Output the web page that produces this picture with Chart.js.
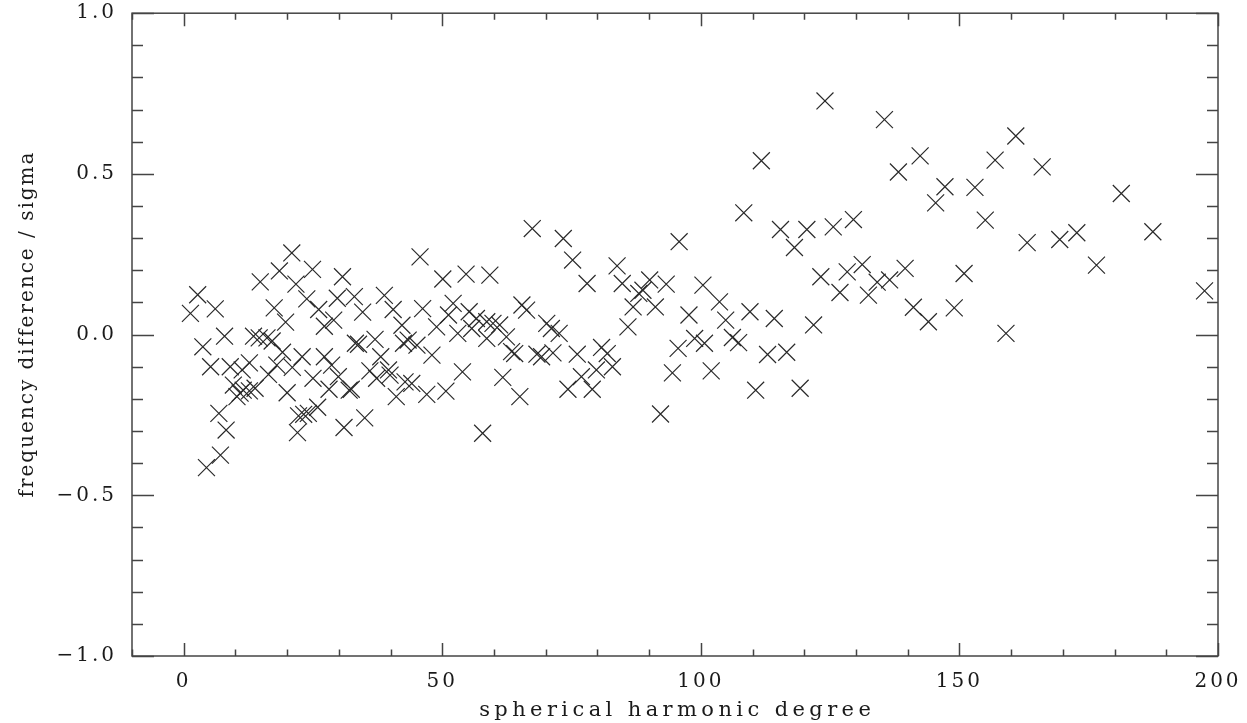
<!DOCTYPE html>
<html>
<head>
<meta charset="utf-8">
<script src="https://cdn.jsdelivr.net/npm/chart.js@4.4.1/dist/chart.umd.min.js"></script>
<style>
  html, body { margin: 0; padding: 0; background: #fff; }
  canvas { display: block; }
</style>
</head>
<body>
<canvas id="freqChart" width="1247" height="723"></canvas>
<script>
// ---- data ----
const degree = [
  1.3, 2.7, 3.7, 4.4, 5.2, 6.1, 6.8, 7.1, 7.9, 8.2,
  9.0, 9.6, 10.3, 10.9, 11.3, 11.5, 12.7, 12.7, 13.5, 13.8,
  14.6, 14.8, 16.1, 16.4, 17.1, 17.5, 18.0, 18.5, 19.1, 19.7,
  20.0, 20.9, 21.0, 21.7, 22.0, 22.2, 22.9, 23.2, 23.8, 24.1,
  24.9, 25.0, 25.9, 26.1, 27.2, 27.2, 28.1, 28.6, 29.0, 29.7,
  29.9, 30.7, 31.0, 32.0, 32.4, 33.0, 33.2, 33.8, 34.6, 35.0,
  36.0, 37.0, 37.3, 38.1, 38.8, 39.6, 39.9, 40.5, 41.1, 42.2,
  42.5, 42.8, 43.4, 44.1, 45.1, 45.7, 46.2, 47.0, 48.0, 48.9,
  50.1, 50.7, 51.2, 52.1, 53.0, 53.9, 54.6, 55.2, 55.7, 56.6,
  57.8, 58.6, 58.6, 59.2, 59.8, 61.1, 61.7, 62.4, 63.4, 64.0,
  65.0, 65.4, 66.3, 67.4, 68.3, 69.2, 70.2, 71.1, 71.4, 72.6,
  73.4, 74.3, 75.2, 76.1, 76.9, 78.0, 79.0, 79.8, 80.8, 81.9,
  82.9, 83.8, 84.8, 85.9, 86.9, 88.0, 88.8, 90.1, 91.2, 92.2,
  93.3, 94.5, 95.6, 95.8, 97.7, 98.8, 100.4, 100.7, 102.0, 103.6,
  104.8, 106.1, 107.3, 108.3, 109.5, 110.6, 111.7, 112.9, 114.2, 115.4,
  116.6, 118.1, 119.2, 120.5, 121.8, 123.2, 124.0, 125.6, 126.9, 128.3,
  129.5, 131.2, 132.4, 134.1, 135.5, 136.5, 138.2, 139.5, 141.1, 142.4,
  144.0, 145.4, 147.2, 149.0, 150.9, 153.0, 155.0, 156.9, 159.0, 160.9,
  163.1, 166.0, 169.4, 172.7, 176.5, 181.3, 187.4, 197.4
];
const sigmaDiff = [
  0.066, 0.124, -0.038, -0.414, -0.100, 0.080, -0.245, -0.375, -0.005, -0.297,
  -0.100, -0.157, -0.193, -0.182, -0.110, -0.173, -0.088, -0.175, -0.005, -0.167,
  -0.010, 0.164, -0.010, -0.124, -0.020, 0.083, -0.095, 0.198, -0.055, 0.039,
  -0.181, 0.254, -0.102, 0.157, -0.305, -0.253, -0.069, -0.248, 0.111, -0.245,
  0.203, -0.136, -0.226, 0.078, 0.026, -0.069, -0.170, -0.095, 0.045, 0.113,
  -0.131, 0.180, -0.289, -0.173, -0.170, 0.118, -0.027, -0.030, 0.070, -0.259,
  -0.113, -0.015, -0.136, -0.069, 0.122, -0.110, -0.126, 0.078, -0.193, 0.029,
  -0.027, -0.147, -0.017, -0.152, -0.033, 0.242, 0.081, -0.186, -0.064, 0.024,
  0.173, -0.176, 0.061, 0.097, 0.004, -0.116, 0.188, 0.071, 0.019, 0.050,
  -0.307, 0.040, -0.012, 0.185, 0.035, 0.030, -0.133, -0.007, -0.053, -0.059,
  -0.193, 0.092, 0.076, 0.330, -0.061, -0.069, 0.035, 0.019, -0.057, 0.004,
  0.299, -0.170, 0.232, -0.061, -0.131, 0.159, -0.170, -0.110, -0.040, -0.059,
  -0.100, 0.214, 0.159, 0.024, 0.086, 0.128, 0.138, 0.170, 0.086, -0.247,
  0.157, -0.119, -0.043, 0.289, 0.061, -0.012, 0.154, -0.027, -0.113, 0.102,
  0.045, -0.009, -0.025, 0.379, 0.071, -0.173, 0.541, -0.062, 0.050, 0.327,
  -0.055, 0.271, -0.167, 0.327, 0.030, 0.180, 0.727, 0.335, 0.131, 0.195,
  0.358, 0.218, 0.123, 0.163, 0.669, 0.170, 0.506, 0.206, 0.085, 0.556,
  0.040, 0.410, 0.460, 0.083, 0.190, 0.458, 0.356, 0.543, 0.004, 0.618,
  0.286, 0.522, 0.296, 0.317, 0.216, 0.439, 0.320, 0.136
];
const xTickValues = [0, 50, 100, 150, 200];
const yTickValues = [-1.0, -0.5, 0.0, 0.5, 1.0];
const xMinorStep = 10;
const yMinorStep = 0.1;
const xTitle = 'spherical harmonic degree';
const yTitle = 'frequency difference / sigma';

const FONT = 'DejaVu Serif';
const INK = '#1a1a1a';

// IDL-style frame: inward ticks on all four sides, spaced-out titles
const frameTicks = {
  id: 'frameTicks',
  beforeLayout(chart) { chart.ctx.letterSpacing = '3px'; },
  beforeDraw(chart) { chart.ctx.letterSpacing = '3px'; },
  afterDraw(chart) {
    const ctx = chart.ctx, a = chart.chartArea;
    const xs = chart.scales.x, ys = chart.scales.y;
    ctx.save();
    ctx.strokeStyle = '#444';
    ctx.lineWidth = 1.5;
    ctx.strokeRect(a.left, a.top, a.right - a.left, a.bottom - a.top);
    ctx.beginPath();
    for (let v = xs.min; v <= xs.max + 1e-6; v += xMinorStep) {
      const px = Math.round(xs.getPixelForValue(v)) + 0.5;
      const len = xTickValues.includes(Math.round(v)) ? 13 : 6.5;
      ctx.moveTo(px, a.bottom); ctx.lineTo(px, a.bottom - len);
      ctx.moveTo(px, a.top); ctx.lineTo(px, a.top + len);
    }
    const n = Math.round((ys.max - ys.min) / yMinorStep);
    for (let i = 0; i <= n; i++) {
      const v = ys.min + i * yMinorStep;
      const py = Math.round(ys.getPixelForValue(v)) + 0.5;
      const len = i % 5 === 0 ? 22 : 11;
      ctx.moveTo(a.left, py); ctx.lineTo(a.left + len, py);
      ctx.moveTo(a.right, py); ctx.lineTo(a.right - len, py);
    }
    ctx.stroke();

    // axis titles
    ctx.fillStyle = INK;
    ctx.textAlign = 'center';
    ctx.textBaseline = 'middle';
    ctx.font = '21px "' + FONT + '"';
    ctx.letterSpacing = '4.4px';
    ctx.fillText(xTitle, (a.left + a.right) / 2 + 2.2, 711);
    ctx.font = '20px "' + FONT + '"';
    ctx.translate(28, 325);
    ctx.rotate(-Math.PI / 2);
    ctx.letterSpacing = '2px';
    ctx.fillText(yTitle, 1, 0);
    ctx.restore();
  }
};

new Chart(document.getElementById('freqChart'), {
  type: 'scatter',
  data: {
    datasets: [{
      data: degree.map(function(d, i) { return { x: d, y: sigmaDiff[i] }; }),
      pointStyle: 'crossRot',
      radius: 12,
      borderColor: '#2a2a2a',
      borderWidth: 1.2,
      backgroundColor: 'transparent'
    }]
  },
  options: {
    responsive: false,
    animation: false,
    events: [],
    layout: { padding: { top: 13, right: 29, left: 0, bottom: 0 } },
    plugins: { legend: { display: false }, tooltip: { enabled: false } },
    scales: {
      x: {
        type: 'linear', min: -10, max: 200,
        grid: { display: false },
        border: { display: false },
        afterBuildTicks: function(s) { s.ticks = xTickValues.map(function(v) { return { value: v }; }); },
        afterFit: function(s) { s.height = 67; s.paddingLeft = 0; s.paddingRight = 0; },
        ticks: { padding: 6, color: INK, font: { family: FONT, size: 20 }, maxRotation: 0, autoSkip: false },
        title: { display: false }
      },
      y: {
        type: 'linear', min: -1, max: 1,
        grid: { display: false },
        border: { display: false },
        afterBuildTicks: function(s) { s.ticks = yTickValues.map(function(v) { return { value: v }; }); },
        afterFit: function(s) { s.width = 132; s.paddingTop = 0; s.paddingBottom = 0; },
        ticks: {
          padding: 7, color: INK, font: { family: FONT, size: 20 }, autoSkip: false,
          callback: function(v) { return v.toFixed(1).replace('-', '\u2212'); }
        },
        title: { display: false }
      }
    }
  },
  plugins: [frameTicks]
});
</script>
</body>
</html>
